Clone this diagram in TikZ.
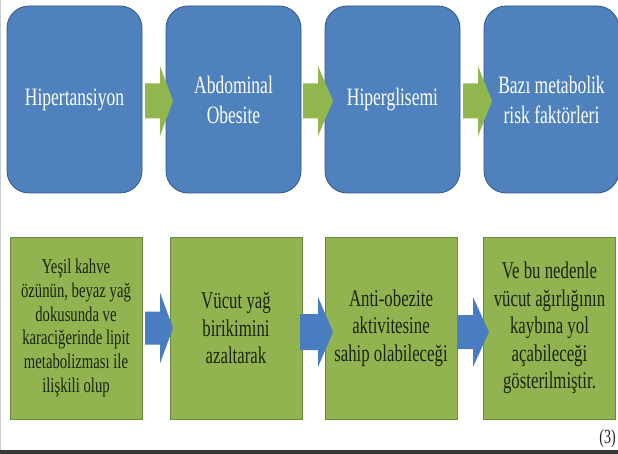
\documentclass[tikz,border=0pt]{standalone}
\usepackage{fontspec}
\setmainfont{Liberation Serif}
\newfontfamily\narrowserif[FakeStretch=0.7]{Liberation Serif}

\definecolor{topblue}{RGB}{79,129,189}
\definecolor{topedge}{RGB}{52,88,134}
\definecolor{arrowgreen}{RGB}{146,182,78}
\definecolor{boxgreen}{RGB}{145,180,80}
\definecolor{boxedge}{RGB}{108,138,58}
\definecolor{arrowblue}{RGB}{74,124,192}
\definecolor{darktext}{RGB}{28,36,18}
\definecolor{rulegray}{RGB}{55,55,58}

% block arrow: fill, tail x, head base x, tip x, centre y, shaft half height, head half height
\newcommand\blockarrow[7]{%
  \fill[#1] (#2,#5-#6) -- (#3,#5-#6) -- (#3,#5-#7) -- (#4,#5)
    -- (#3,#5+#7) -- (#3,#5+#6) -- (#2,#5+#6) -- cycle;}

\tikzset{
  topbox/.style={draw=topedge, line width=0.8pt, fill=topblue, rounded corners=22pt,
    minimum width=135pt, minimum height=187pt, inner sep=0pt, align=center,
    text=white, font=\narrowserif\fontsize{25}{30}\selectfont},
  lowbox/.style={draw=boxedge, line width=0.8pt, fill=boxgreen,
    minimum width=132pt, minimum height=182pt, inner sep=0pt, align=center,
    text=darktext, font=\narrowserif\fontsize{24}{27.5}\selectfont},
  smalltext/.style={font=\narrowserif\fontsize{21}{23.7}\selectfont},
}

\begin{document}
\begin{tikzpicture}[x=1pt,y=-1pt]
\clip (0,0) rectangle (618,454);
\fill[white] (0,0) rectangle (618,454);
\draw[gray!40, line width=1pt] (0.5,0) -- (0.5,450);

% upper chain
\node[topbox] (t1) at (74.5,99.5) {Hipertansiyon};
\node[topbox] (t2) at (233.5,99.5) {Abdominal\\Obesite};
\node[topbox] (t3) at (392.5,99.5) {Hiperglisemi};
\node[topbox] (t4) at (551.5,99.5) {Bazı metabolik\\risk faktörleri};

\blockarrow{arrowgreen}{145}{160}{173}{101}{17.5}{35}
\blockarrow{arrowgreen}{303}{318}{333}{101}{17.5}{35}
\blockarrow{arrowgreen}{463}{478}{492}{101}{17.5}{35}

% lower chain
\node[lowbox, smalltext] (b1) at (76,328) {Yeşil kahve\\özünün, beyaz yağ\\dokusunda ve\\karaciğerinde lipit\\metabolizması ile\\ilişkili olup};
\node[lowbox] (b2) at (236,328) {Vücut yağ\\birikimini\\azaltarak};
\node[lowbox] (b3) at (391,328) {Anti-obezite\\aktivitesine\\sahip olabileceği};
\node[lowbox] (b4) at (549.5,328) {Ve bu nedenle\\vücut ağırlığının\\kaybına yol\\açabileceği\\gösterilmiştir.};

\blockarrow{arrowblue}{145}{160}{173}{328}{16.5}{35.5}
\blockarrow{arrowblue}{300}{318}{333}{332}{18}{35}
\blockarrow{arrowblue}{458}{473}{489}{332}{17}{35}

% reference mark and bottom rule
\node[anchor=east, text=darktext, inner sep=0pt,
  font=\narrowserif\fontsize{20}{20}\selectfont] (ref) at (616,439) {(3)};
\fill[rulegray] (0,450) rectangle (618,454);
\end{tikzpicture}
\end{document}
